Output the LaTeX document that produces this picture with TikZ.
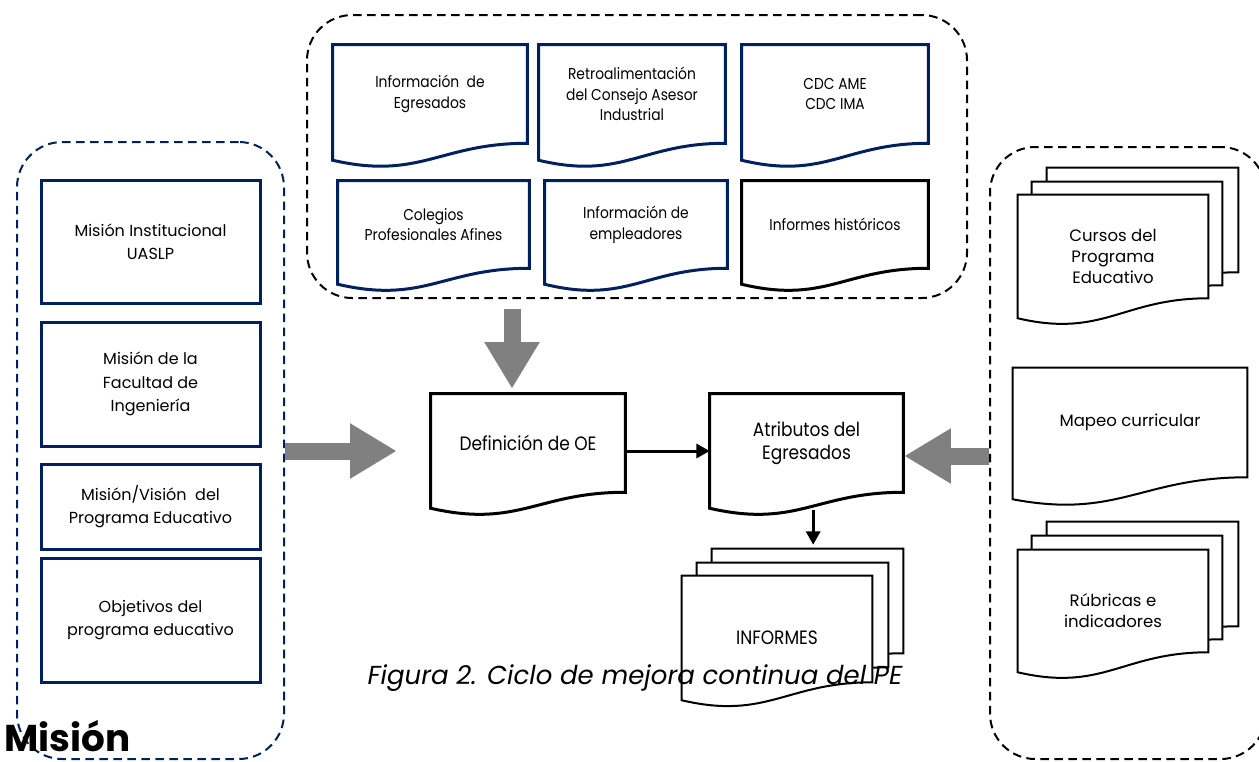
\documentclass[tikz,border=0pt]{standalone}
\usepackage{fontspec}
\setmainfont{Poppins}
\newfontfamily\narrowf[FakeStretch=0.88]{Poppins}
\usetikzlibrary{arrows.meta,calc,backgrounds}
\definecolor{navy}{RGB}{0,32,96}
\definecolor{arrowgray}{RGB}{128,128,128}
% document outline: #1 node, #2 options, #3 right-bottom offset, #4 left-bottom offset (px, downward)
\newcommand\docout[4]{%
  \begin{pgfonlayer}{background}
  \draw[fill=white,#2] ($(#1.south east)+(0,#3)$) -- (#1.north east) -- (#1.north west) -- ($(#1.south west)+(0,#4)$)
    .. controls ($(#1.south west)!0.45!(#1.south east)+(0,#4+20)$) and ($(#1.south west)!0.55!(#1.south east)+(0,#3)$) .. ($(#1.south east)+(0,#3)$) -- cycle;
  \end{pgfonlayer}}
\tikzset{
  every node/.style={inner sep=0pt, align=center, text=black},
  sz/.style 2 args={minimum width=#1*0.75pt, minimum height=#2*0.75pt},
  navybox/.style={draw=navy, line width=2.25pt},
  navyline/.style={draw=navy, line width=2.25pt},
  blackline/.style={draw=black, line width=2.25pt},
  thinline/.style={draw=black, line width=1.5pt},
  grp/.style={dash pattern=on 6.5pt off 4pt, line width=1.5pt, rounded corners=34pt},
  ltxt/.style={font=\fontsize{12}{17.5}\selectfont},
  ttxt/.style={font=\narrowf\fontsize{11.8}{15.5}\selectfont},
  ctxt/.style={font=\narrowf\fontsize{14.5}{17}\selectfont},
  rtxt/.style={font=\fontsize{12.4}{15.8}\selectfont},
  grayarrow/.style={draw=arrowgray, line width=12.75pt, -{Triangle[length=35pt,width=39pt]}},
  blk/.style={draw=black, line width=2.25pt, -{Triangle[length=10pt,width=10.5pt]}},
}
\begin{document}
\begin{tikzpicture}[x=0.75pt,y=-0.75pt]
\useasboundingbox (0,0) rectangle (1259,761);
\clip (0,0) rectangle (1259,761);
% groups
\node[grp, draw=navy, sz={267}{617}] (leftgroup) at (150.5,450.5) {};
\node[grp, draw=black, sz={660}{283}] (topgroup) at (637,156.5) {};
\node[grp, draw=black, sz={276}{612}] (rightgroup) at (1128,453) {};
% left boxes
\node[navybox, ltxt, sz={219}{123}] (m1) at (150.5,241.5) {Misión Institucional\\UASLP};
\node[navybox, ltxt, sz={219}{124}] (m2) at (150.5,384) {Misión de la\\Facultad de\\Ingeniería};
\node[navybox, ltxt, sz={219}{85}] (m3) at (150.5,506.5) {Misión/Visión~ del\\Programa Educativo};
\node[navybox, ltxt, sz={219}{124}] (m4) at (150.5,620) {Objetivos del\\programa educativo};
% top documents
\node[ttxt, sz={194}{98}] (i1) at (430,94) {Información~ de\\Egresados};
\docout{i1}{navyline}{0}{17}
\node[ttxt, sz={186}{98}] (i2) at (632,94) {Retroalimentación\\del Consejo Asesor\\Industrial};
\docout{i2}{navyline}{0}{17}
\node[ttxt, sz={186}{98}] (i3) at (835,94) {CDC AME\\CDC IMA};
\docout{i3}{navyline}{0}{17}
\node[ttxt, sz={191}{87}] (i4) at (433.5,224.5) {Colegios\\Profesionales Afines};
\docout{i4}{navyline}{0}{16}
\node[ttxt, sz={182}{87}] (i5) at (636,224.5) {Información de\\empleadores};
\docout{i5}{navyline}{0}{16}
\node[ttxt, sz={186}{87}] (i6) at (835,224.5) {Informes históricos};
\docout{i6}{blackline}{0}{16}
% center
\node[ctxt, sz={194}{98}] (defoe) at (528,443) {Definición de OE};
\docout{defoe}{blackline}{0}{16}
\node[ctxt, sz={193}{98}] (atr) at (806.5,443) {Atributos del\\Egresados};
\docout{atr}{blackline}{0}{16}
% informes stack
\node[sz={191}{104}] (infB) at (807.5,601) {};
\docout{infB}{thinline}{0}{18}
\node[sz={191}{104}] (infM) at (792.5,615) {};
\docout{infM}{thinline}{0}{18}
\node[ctxt, sz={190}{124}] (infF) at (777,638) {INFORMES};
\docout{infF}{thinline}{-18}{0}
% right stacks
\node[sz={191}{104}] (cB) at (1142.5,220) {};
\docout{cB}{thinline}{0}{18}
\node[sz={190}{103}] (cM) at (1127,233.5) {};
\docout{cM}{thinline}{0}{18}
\node[rtxt, sz={190}{123}] (cF) at (1113,256.5) {Cursos del\\Programa\\Educativo};
\docout{cF}{thinline}{-20}{0}
\node[rtxt, sz={234}{109}] (mapeo) at (1130,422.5) {Mapeo curricular};
\docout{mapeo}{thinline}{0}{22}
\node[sz={191}{104}] (rB) at (1142.5,574) {};
\docout{rB}{thinline}{0}{18}
\node[sz={190}{103}] (rM) at (1127,587.5) {};
\docout{rM}{thinline}{0}{18}
\node[rtxt, sz={190}{122}] (rF) at (1113,611) {Rúbricas e\\indicadores};
\docout{rF}{thinline}{-20}{0}
% arrows
\draw[grayarrow, shorten >=25.5pt] ([yshift=-6pt]leftgroup.east |- defoe.west) -- ([yshift=-6pt]defoe.west);
\draw[grayarrow, shorten <=7.5pt, shorten >=3.75pt] ([xshift=-12pt]defoe.north |- topgroup.south) -- ([xshift=-12pt]defoe.north);
\draw[grayarrow] ([yshift=-9.75pt]rightgroup.west |- atr.east) -- ([yshift=-9.75pt,xshift=0.75pt]atr.east);
\draw[blk] ([yshift=-6pt]defoe.east) -- ([yshift=-6pt]atr.west);
\draw[blk, shorten <=13.5pt, shorten >=3pt] ([xshift=5pt]atr.south) -- ([xshift=5pt]atr.south |- infB.north);
% texts
\node[font=\itshape\fontsize{19.5}{22}\selectfont] (caption) at (635,678) {Figura 2. Ciclo de mejora continua del PE};
\node[anchor=base west, font=\bfseries\fontsize{28}{32}\selectfont] (mision) at (4,751) {Misión};
\end{tikzpicture}
\end{document}
